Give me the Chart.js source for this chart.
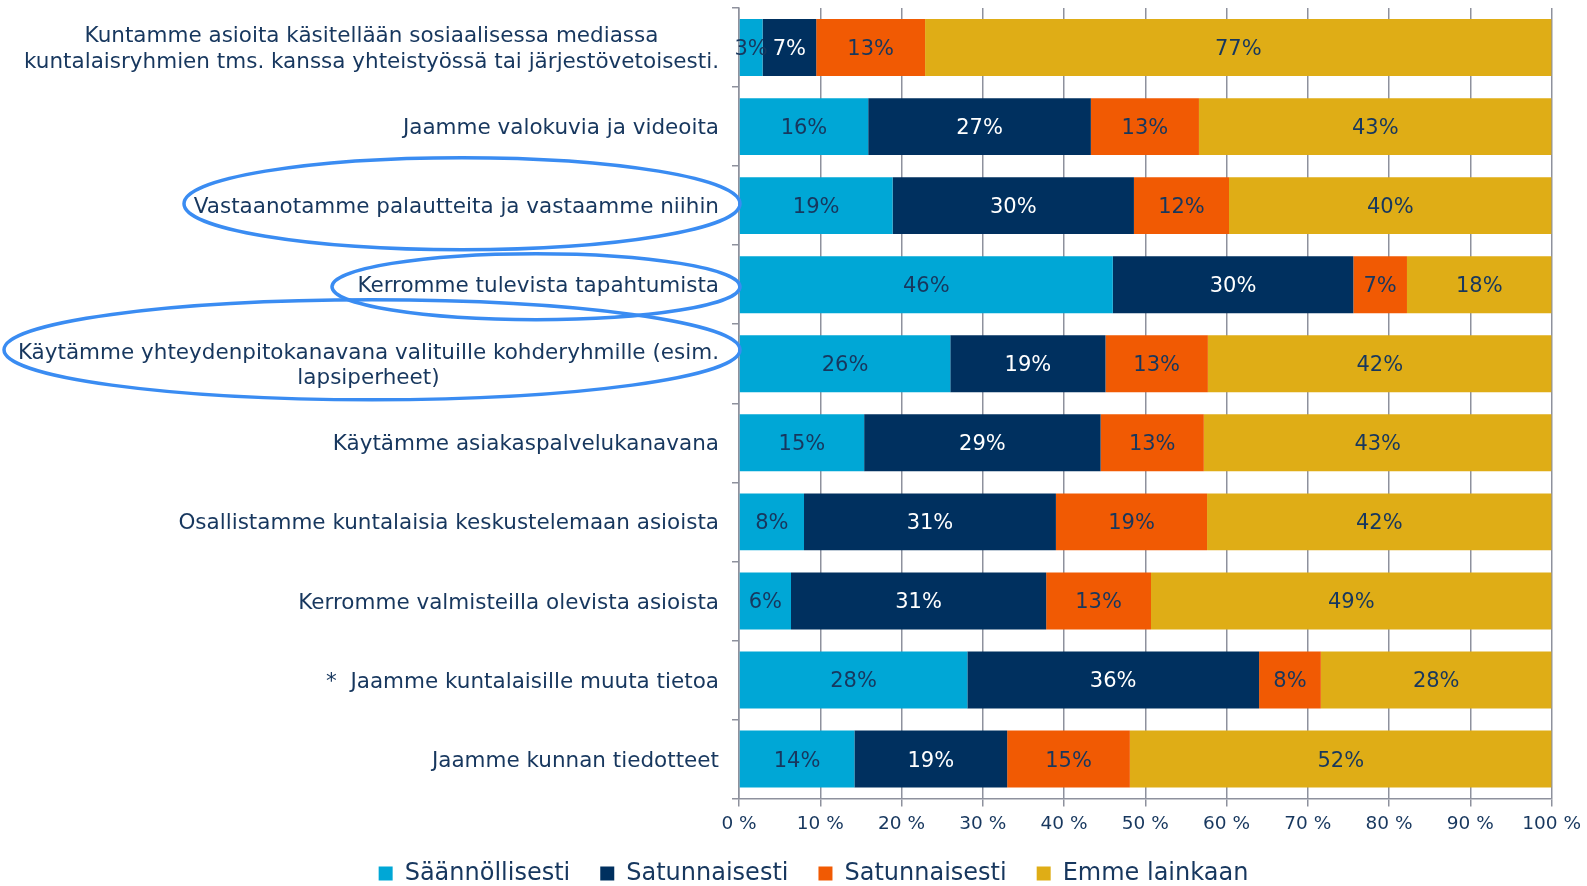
<!DOCTYPE html>
<html>
<head>
<meta charset="utf-8">
<script src="https://cdn.jsdelivr.net/npm/chart.js@4"></script>
<style>
  html, body { margin: 0; padding: 0; background: #fff; }
  #wrap { width: 1587px; height: 886px; }
</style>
</head>
<body>
<div id="wrap"><canvas id="myChart" width="1587" height="886"></canvas></div>
<script>
const categories = [
    ["Kuntamme asioita käsitellään sosiaalisessa mediassa", "kuntalaisryhmien tms. kanssa yhteistyössä tai järjestövetoisesti."],
    "Jaamme valokuvia ja videoita",
    "Vastaanotamme palautteita ja vastaamme niihin",
    "Kerromme tulevista tapahtumista",
    ["Käytämme yhteydenpitokanavana valituille kohderyhmille (esim.", "lapsiperheet)"],
    "Käytämme asiakaspalvelukanavana",
    "Osallistamme kuntalaisia keskustelemaan asioista",
    "Kerromme valmisteilla olevista asioista",
    "*  Jaamme kuntalaisille muuta tietoa",
    "Jaamme kunnan tiedotteet",
];
const seriesNames = ["Säännöllisesti", "Satunnaisesti", "Satunnaisesti", "Emme lainkaan"];
const saannollisesti = [2.9, 15.9, 18.9, 46.0, 26.0, 15.4, 8.0, 6.4, 28.1, 14.2];
const satunnaisesti = [6.6, 27.4, 29.7, 29.6, 19.1, 29.1, 31.0, 31.4, 35.9, 18.8];
const satunnaisesti2 = [13.4, 13.3, 11.7, 6.6, 12.6, 12.7, 18.6, 12.9, 7.6, 15.1];
const emmeLainkaan = [77.1, 43.4, 39.7, 17.8, 42.3, 42.8, 42.4, 49.3, 28.4, 51.9];
const xTicks = [0, 10, 20, 30, 40, 50, 60, 70, 80, 90, 100];

const colors = ["#00a7d6", "#00305f", "#f15a03", "#dfad16"];
const labelColors = ["#17375e", "#ffffff", "#17375e", "#17375e"];
const textColor = "#17375e";
const gridColor = "#8e919d";
const fontFamily = "'DejaVu Sans', Verdana, sans-serif";

// labels centred line by line, right edge next to the axis (like the original)
const yLabelPlugin = {
    id: "yLabels",
    afterDraw(chart) {
        const ctx = chart.ctx;
        const yScale = chart.scales.y;
        const right = chart.chartArea.left - 20;
        ctx.save();
        ctx.font = "21.5px " + fontFamily;
        ctx.fillStyle = textColor;
        ctx.textAlign = "center";
        ctx.textBaseline = "middle";
        const lineH = 25.5;
        categories.forEach((cat, i) => {
            const lines = Array.isArray(cat) ? cat : [cat];
            const w = Math.max(...lines.map((l) => ctx.measureText(l).width));
            const cx = right - w / 2;
            const y0 = yScale.getPixelForValue(i) + 2 - ((lines.length - 1) * lineH) / 2;
            lines.forEach((l, k) => ctx.fillText(l, cx, y0 + k * lineH));
        });
        ctx.restore();
    },
};

const valueLabelPlugin = {
    id: "valueLabels",
    afterDatasetsDraw(chart) {
        const ctx = chart.ctx;
        ctx.save();
        ctx.font = "21px " + fontFamily;
        ctx.textAlign = "center";
        ctx.textBaseline = "middle";
        chart.data.datasets.forEach((ds, di) => {
            const meta = chart.getDatasetMeta(di);
            ctx.fillStyle = labelColors[di];
            meta.data.forEach((bar, i) => {
                const x = (bar.x + bar.base) / 2;
                ctx.fillText(Math.round(ds.data[i]) + "%", x, bar.y + 2);
            });
        });
        ctx.restore();
    },
};

// hand-drawn style highlight ellipses around three of the labels
const ellipses = [
    { index: 2, rx: 278, ry: 46, dy: -2 },
    { index: 3, rx: 204, ry: 33, dy: 2 },
    { index: 4, rx: 368, ry: 50, dy: -14 },
];
const ellipsePlugin = {
    id: "ellipses",
    afterDraw(chart) {
        const ctx = chart.ctx;
        const yScale = chart.scales.y;
        const right = chart.chartArea.left + 1;
        ctx.save();
        ctx.strokeStyle = "#3a8cf2";
        ctx.lineWidth = 3.5;
        ellipses.forEach((e) => {
            const cy = yScale.getPixelForValue(e.index) + e.dy;
            ctx.beginPath();
            ctx.ellipse(right - e.rx, cy, e.rx, e.ry, 0, 0, Math.PI * 2);
            ctx.stroke();
        });
        ctx.restore();
    },
};

// the legend in the original sits a little right of the canvas centre
const legendShift = {
    id: "legendShift",
    afterLayout(chart) {
        chart.legend.left += 27;
        chart.legend.right += 27;
    },
};

const ctx = document.getElementById("myChart").getContext("2d");
const myChart = new Chart(ctx, {
    type: "bar",
    data: {
        labels: categories,
        datasets: [saannollisesti, satunnaisesti, satunnaisesti2, emmeLainkaan].map((d, i) => ({
            label: seriesNames[i],
            data: d,
            backgroundColor: colors[i],
            borderWidth: 0,
            categoryPercentage: 0.72,
            barPercentage: 1,
        })),
    },
    plugins: [yLabelPlugin, valueLabelPlugin, ellipsePlugin, legendShift],
    options: {
        indexAxis: "y",
        responsive: false,
        animation: false,
        layout: { padding: { top: 8, right: 14, left: 0, bottom: -9.6 } },
        plugins: {
            tooltip: { enabled: false },
            legend: {
                position: "bottom",
                labels: {
                    boxWidth: 14,
                    boxHeight: 14,
                    padding: 30,
                    color: textColor,
                    font: { family: fontFamily, size: 24 },
                },
            },
        },
        scales: {
            x: {
                stacked: true,
                min: 0,
                max: 100,
                afterBuildTicks(scale) {
                    scale.ticks = xTicks.map((v) => ({ value: v }));
                },
                afterFit(scale) {
                    scale.height = 33;
                },
                ticks: {
                    color: textColor,
                    font: { family: fontFamily, size: 18.5 },
                    padding: 6,
                    maxRotation: 0,
                    callback: (v) => v + " %",
                },
                grid: { color: gridColor, lineWidth: 1.5, tickLength: 8 },
                border: { color: gridColor, width: 1.5 },
            },
            y: {
                stacked: true,
                ticks: { display: false },
                grid: { drawOnChartArea: false, color: gridColor, lineWidth: 1.5, tickLength: 7 },
                border: { color: gridColor, width: 1.5 },
                afterFit(scale) {
                    scale.width = 739;
                },
            },
        },
    },
});
</script>
</body>
</html>
